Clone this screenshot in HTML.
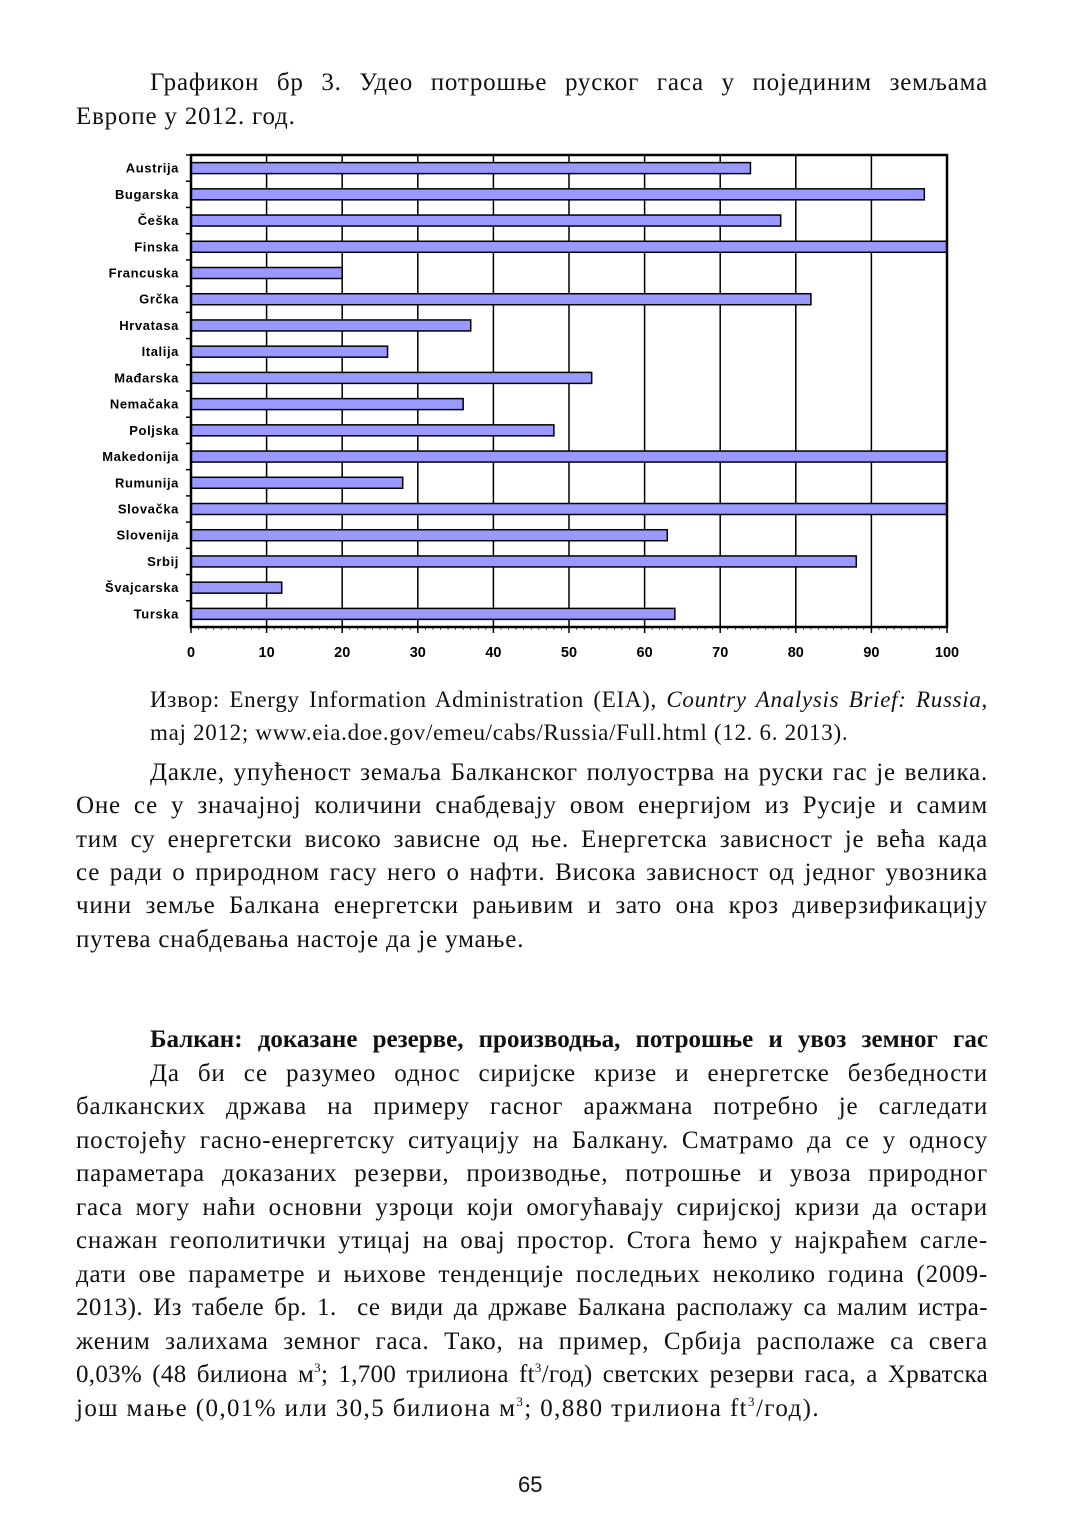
<!DOCTYPE html>
<html><head><meta charset="utf-8"><style>
body{margin:0;background:#fff;}
#p{position:relative;width:1080px;height:1530px;overflow:hidden;font-family:"Liberation Serif","DejaVu Serif",serif;color:#111;}
.l{position:absolute;font-size:25px;letter-spacing:0.8px;line-height:28px;height:28px;white-space:nowrap;}
.j{text-align:justify;text-align-last:justify;white-space:normal;}
.s{font-size:23px;letter-spacing:0.7px;}
sup{font-size:13px;vertical-align:0;position:relative;top:-10px;line-height:0;}
</style></head><body><div id="p">
<div class="l j" style="left:150px;top:69px;width:838px">Графикон бр 3. Удео потрошње руског гаса у појединим земљама</div>
<div class="l" style="left:76px;top:103px">Европе у 2012. год.</div>

<svg style="position:absolute;left:0;top:0" width="1080" height="680" font-family="Liberation Sans, Arial, sans-serif">
<g stroke="#000" stroke-width="1.5">
<line x1="266.6" y1="155" x2="266.6" y2="627"/><line x1="342.2" y1="155" x2="342.2" y2="627"/><line x1="417.8" y1="155" x2="417.8" y2="627"/><line x1="493.4" y1="155" x2="493.4" y2="627"/><line x1="569" y1="155" x2="569" y2="627"/><line x1="644.6" y1="155" x2="644.6" y2="627"/><line x1="720.2" y1="155" x2="720.2" y2="627"/><line x1="795.8" y1="155" x2="795.8" y2="627"/><line x1="871.4" y1="155" x2="871.4" y2="627"/>
</g>
<g id="bars" fill="#9999ff" stroke="#000" stroke-width="1.5"></g>
<rect x="191" y="155" width="756" height="472" fill="none" stroke="#000" stroke-width="2.5"/>
<g id="ticks" stroke="#000" stroke-width="1.5"></g>
<g id="labs" font-size="13" font-weight="bold" text-anchor="end" fill="#000" letter-spacing="0.6"></g>
<g font-size="14.5" font-weight="bold" text-anchor="middle" fill="#000">
<text x="191" y="657">0</text><text x="266.6" y="657">10</text><text x="342.2" y="657">20</text><text x="417.8" y="657">30</text><text x="493.4" y="657">40</text><text x="569" y="657">50</text><text x="644.6" y="657">60</text><text x="720.2" y="657">70</text><text x="795.8" y="657">80</text><text x="871.4" y="657">90</text><text x="947" y="657">100</text>
</g>
</svg>

<div class="l j s" style="left:150px;top:686px;width:838px">Извор: Energy Information Administration (EIA), <i>Country Analysis Brief: Russia</i>,</div>
<div class="l s" style="left:150px;top:719px">maj 2012; www.eia.doe.gov/emeu/cabs/Russia/Full.html (12. 6. 2013).</div>

<div class="l j" style="left:150px;top:759px;width:838px">Дакле, упућеност земаља Балканског полуострва на руски гас је велика.</div>
<div class="l j" style="left:76px;top:792px;width:912px">Оне се у значајној количини снабдевају овом енергијом из Русије и самим</div>
<div class="l j" style="left:76px;top:826px;width:912px">тим су енергетски високо зависне од ње. Енергетска зависност је већа када</div>
<div class="l j" style="left:76px;top:859px;width:912px">се ради о природном гасу него о нафти. Висока зависност од једног увозника</div>
<div class="l j" style="left:76px;top:892px;width:912px">чини земље Балкана енергетски рањивим и зато она кроз диверзификацију</div>
<div class="l" style="left:76px;top:926px">путева снабдевања настоје да је умање.</div>

<div class="l j" style="left:150px;top:1026px;width:838px;font-weight:bold;letter-spacing:0">Балкан: доказане резерве, производња, потрошње и увоз земног гас</div>
<div class="l j" style="left:150px;top:1060px;width:838px">Да би се разумео однос сиријске кризе и енергетске безбедности</div>
<div class="l j" style="left:76px;top:1093px;width:912px">балканских држава на примеру гасног аражмана потребно је сагледати</div>
<div class="l j" style="left:76px;top:1127px;width:912px">постојећу гасно-енергетску ситуацију на Балкану. Сматрамо да се у односу</div>
<div class="l j" style="left:76px;top:1160px;width:912px">параметара доказаних резерви, производње, потрошње и увоза природног</div>
<div class="l j" style="left:76px;top:1194px;width:912px">гаса могу наћи основни узроци који омогућавају сиријској кризи да остари</div>
<div class="l j" style="left:76px;top:1227px;width:912px">снажан геополитички утицај на овај простор. Стога ћемо у најкраћем сагле-</div>
<div class="l j" style="left:76px;top:1261px;width:912px">дати ове параметре и њихове тенденције последњих неколико година (2009-</div>
<div class="l j" style="left:76px;top:1294px;width:912px;letter-spacing:0.4px">2013). Из табеле бр. 1.&nbsp; се види да државе Балкана располажу са малим истра-</div>
<div class="l j" style="left:76px;top:1328px;width:912px">женим залихама земног гаса. Тако, на пример, Србија располаже са свега</div>
<div class="l j" style="left:76px;top:1361px;width:912px;letter-spacing:0.3px">0,03% (48 билиона м<sup>3</sup>; 1,700 трилиона ft<sup>3</sup>/год) светских резерви гаса, а Хрватска</div>
<div class="l" style="left:76px;top:1395px;letter-spacing:1.4px">још мање (0,01% или 30,5 билиона м<sup>3</sup>; 0,880 трилиона ft<sup>3</sup>/год).</div>

<div class="l" style="left:518px;top:1471px;font-family:'Liberation Sans Narrow','Liberation Sans',sans-serif;font-size:22px;letter-spacing:0">65</div>
</div>
<script>
var d=[["Austrija",74],["Bugarska",97],["Češka",78],["Finska",100],["Francuska",20],["Grčka",82],["Hrvatasa",37],["Italija",26],["Mađarska",53],["Nemačaka",36],["Poljska",48],["Makedonija",100],["Rumunija",28],["Slovačka",100],["Slovenija",63],["Srbij",88],["Švajcarska",12],["Turska",64]];
var ns="http://www.w3.org/2000/svg",h=472/18,b=document.getElementById("bars"),l=document.getElementById("labs"),t=document.getElementById("ticks");
d.forEach(function(r,i){var c=155+h*(i+0.5);
var e=document.createElementNS(ns,"rect");e.setAttribute("x",191);e.setAttribute("y",c-5.5);e.setAttribute("width",r[1]*7.56);e.setAttribute("height",11);b.appendChild(e);
var x=document.createElementNS(ns,"text");x.setAttribute("x",179);x.setAttribute("y",c+4.5);x.textContent=r[0];l.appendChild(x);
var k=document.createElementNS(ns,"line");k.setAttribute("x1",186);k.setAttribute("x2",191);k.setAttribute("y1",155+h*i);k.setAttribute("y2",155+h*i);t.appendChild(k);});
for(var i=0;i<=100;i++){var k=document.createElementNS(ns,"line");var x=191+i*7.56;k.setAttribute("x1",x);k.setAttribute("x2",x);k.setAttribute("y1",627);k.setAttribute("y2",i%10?630:633);k.setAttribute("stroke-width",i%10?0.6:1.5);t.appendChild(k);}
</script>
</body></html>
